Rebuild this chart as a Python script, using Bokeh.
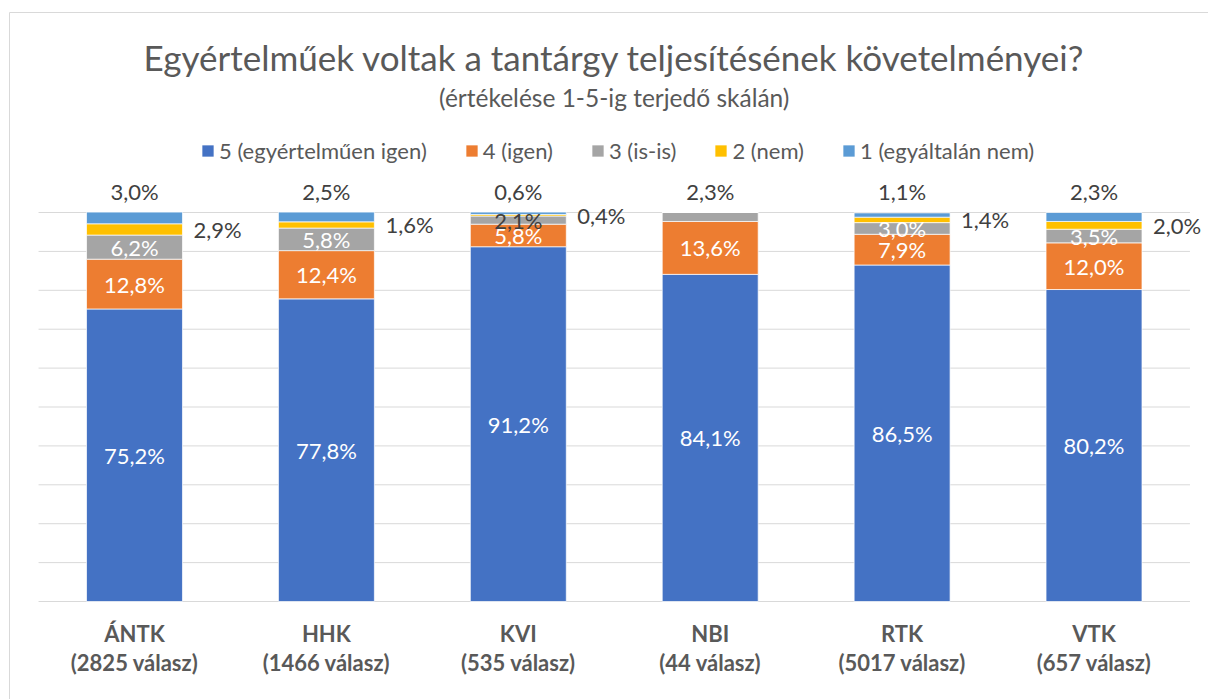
from bokeh.plotting import figure
from bokeh.models import ColumnDataSource, Range1d, Legend, LegendItem
from bokeh.core.properties import value
from bokeh.embed import file_html
from bokeh.resources import INLINE

# ---------------- data ----------------
categories = ["ÁNTK", "HHK", "KVI", "NBI", "RTK", "VTK"]
responses = ["(2825 válasz)", "(1466 válasz)", "(535 válasz)", "(44 válasz)", "(5017 válasz)", "(657 válasz)"]
s5 = [75.2, 77.8, 91.2, 84.1, 86.5, 80.2]
s4 = [12.8, 12.4, 5.8, 13.6, 7.9, 12.0]
s3 = [6.2, 5.8, 2.1, 2.3, 3.0, 3.5]
s2 = [2.9, 1.6, 0.4, 0.0, 1.4, 2.0]
s1 = [3.0, 2.5, 0.6, 0.0, 1.1, 2.3]
series_names = ["5 (egyértelműen igen)", "4 (igen)", "3 (is-is)", "2 (nem)", "1 (egyáltalán nem)"]
colors = ["#4472C4", "#ED7D31", "#A5A5A5", "#FFC000", "#5B9BD5"]
grid_ticks = [0, 10, 20, 30, 40, 50, 60, 70, 80, 90, 100]
title_text = "Egyértelműek voltak a tantárgy teljesítésének követelményei?"
subtitle_text = "(értékelése 1-5-ig terjedő skálán)"

FONT = "Lato"
DARK = "#404040"
GREY = "#595959"
LINE = "#D9D9D9"

W, H = 1208, 699
X0, X1 = -0.6983, 5.5966
Y0, Y1 = -25.19, 154.50
BX, BY = -0.6514, 151.41   # chart-area border (left / top)


def fmt(v):
    return f"{v:.1f}".replace(".", ",") + "%"


xs = list(range(len(categories)))
keys = ["s5", "s4", "s3", "s2", "s1"]
src = ColumnDataSource(dict(x=xs, s5=s5, s4=s4, s3=s3, s2=s2, s1=s1))

p = figure(width=W, height=H, output_backend="svg", toolbar_location=None,
           x_range=Range1d(X0, X1), y_range=Range1d(Y0, Y1),
           x_axis_location=None, y_axis_location=None,
           min_border_left=0, min_border_top=0, min_border_right=0, min_border_bottom=0)
p.outline_line_color = None
p.background_fill_color = "white"
p.border_fill_color = "white"
p.xgrid.visible = False
p.ygrid.visible = False

# chart border (left and top edges visible in the frame)
p.segment(x0=[BX, BX], y0=[Y0, BY], x1=[BX, X1], y1=[BY, BY], line_color=LINE, line_width=1)

# gridlines
p.segment(x0=-0.5, x1=5.5, y0=grid_ticks, y1=grid_ticks, line_color=LINE, line_width=1)

rs = p.vbar_stack(keys, x="x", width=0.5, color=colors, source=src,
                  line_color="white", line_width=0.7)

# ---------- data labels ----------
in_x, in_y, in_t, in_c = [], [], [], []
r_x, r_y, r_t = [], [], []
t_x, t_y, t_t = [], [], []
for i in xs:
    b5 = s5[i]
    b4 = b5 + s4[i]
    b3 = b4 + s3[i]
    b2 = b3 + s2[i]
    total = b2 + s1[i]
    in_x += [i, i]
    in_y += [b5 / 2, (b5 + b4) / 2]
    in_t += [fmt(s5[i]), fmt(s4[i])]
    in_c += ["white", "white"]
    if s1[i] > 0:
        in_x.append(i)
        in_y.append((b4 + b3) / 2)
        in_t.append(fmt(s3[i]))
        in_c.append("white" if s3[i] >= 3 else DARK)
        t_x.append(i); t_y.append(total); t_t.append(fmt(s1[i]))
    else:
        t_x.append(i); t_y.append(total); t_t.append(fmt(s3[i]))
    if s2[i] > 0:
        r_x.append(i + 0.25); r_y.append((b3 + b2) / 2); r_t.append(fmt(s2[i]))

LBL = "22px"
p.text(x=in_x, y=in_y, text=in_t, text_color=in_c, text_font=value(FONT),
       text_font_size=LBL, text_align="center", text_baseline="middle")
p.text(x=r_x, y=r_y, text=r_t, text_color=DARK, text_font=value(FONT),
       text_font_size=LBL, text_align="left", text_baseline="middle", x_offset=11)
p.text(x=t_x, y=t_y, text=t_t, text_color=DARK, text_font=value(FONT),
       text_font_size=LBL, text_align="center", text_baseline="middle", y_offset=-21)

# category labels
p.text(x=xs, y=[0] * len(xs), text=categories, text_color=GREY, text_font=value(FONT),
       text_font_style="bold", text_font_size="22px", text_align="center",
       text_baseline="middle", y_offset=32)
p.text(x=xs, y=[0] * len(xs), text=responses, text_color=GREY, text_font=value(FONT),
       text_font_style="bold", text_font_size="22px", text_align="center",
       text_baseline="middle", y_offset=61)

# titles
p.text(x=[2.5], y=[100], text=[title_text], text_color=GREY, text_font=value(FONT),
       text_font_size="35px", text_align="center", text_baseline="middle", y_offset=-156)
p.text(x=[2.5], y=[100], text=[subtitle_text], text_color=GREY, text_font=value(FONT),
       text_font_size="24.5px", text_align="center", text_baseline="middle", y_offset=-115)

legend = Legend(items=[LegendItem(label=series_names[k], renderers=[rs[k]]) for k in range(5)],
                orientation="horizontal", location=(200, 535),
                label_text_font=FONT, label_text_font_size="22px", label_text_color=GREY,
                glyph_width=15, glyph_height=15, label_standoff=4, spacing=37,
                padding=0, margin=0, border_line_color=None, background_fill_alpha=0,
                label_height=26)
p.add_layout(legend)

open("out.html", "w").write(file_html(p, INLINE))
